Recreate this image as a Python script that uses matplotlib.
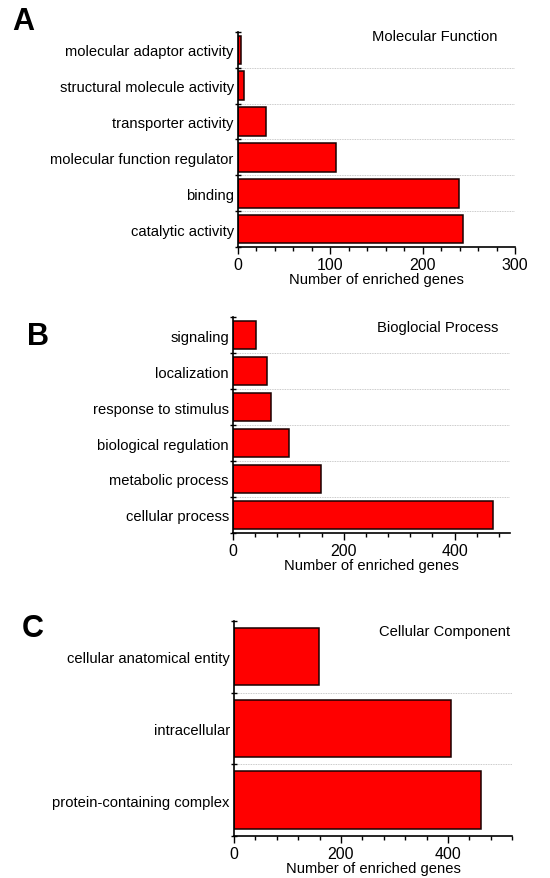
import matplotlib
matplotlib.use("Agg")
import matplotlib.pyplot as plt
import numpy as np
from matplotlib.ticker import MultipleLocator, FixedLocator

plt.rcParams['font.family'] = ['Liberation Sans', 'DejaVu Sans']

# top-to-bottom order as in the figure
mf_terms = ["molecular adaptor activity", "structural molecule activity", "transporter activity",
            "molecular function regulator", "binding", "catalytic activity"]
mf_counts = [3, 7, 30, 106, 239, 244]

bp_terms = ["signaling", "localization", "response to stimulus",
            "biological regulation", "metabolic process", "cellular process"]
bp_counts = [42, 62, 68, 101, 158, 469]

cc_terms = ["cellular anatomical entity", "intracellular", "protein-containing complex"]
cc_counts = [159, 405, 461]

panels = [
    dict(letter="A", title="Molecular Function", terms=mf_terms, counts=mf_counts,
         xmax=300, major=100, minor=20, rect=[0.4327, 0.7179, 0.5037, 0.2446],
         title_xy=(0.935, 0.981), letter_xy=(0.042, 0.975)),
    dict(letter="B", title="Bioglocial Process", terms=bp_terms, counts=bp_counts,
         xmax=500, major=200, minor=40, rect=[0.4236, 0.3925, 0.5037, 0.2457],
         title_xy=(0.957, 0.954), letter_xy=(0.069, 0.6166)),
    dict(letter="C", title="Cellular Component", terms=cc_terms, counts=cc_counts,
         xmax=520, major=200, minor=40, rect=[0.4255, 0.0478, 0.5055, 0.2446],
         title_xy=(0.993, 0.953), letter_xy=(0.06, 0.284)),
]

fig = plt.figure(figsize=(5.5, 8.79), dpi=100)

for p in panels:
    ax = fig.add_axes(p["rect"])
    n = len(p["terms"])
    y = np.arange(n)
    ax.barh(y, p["counts"], height=0.8, color="#ff0000", edgecolor="#1a0000", linewidth=1.1)
    ax.set_ylim(n - 0.5, -0.5)
    ax.set_xlim(0, p["xmax"])
    ax.set_yticks(y)
    ax.set_yticklabels(p["terms"], fontsize=10.6)
    ax.tick_params(axis="y", which="major", length=0, pad=3)
    ax.yaxis.set_minor_locator(FixedLocator(np.arange(n + 1) - 0.5))
    ax.tick_params(axis="y", which="minor", direction="inout", length=4, width=1)
    ax.xaxis.set_major_locator(MultipleLocator(p["major"]))
    ax.xaxis.set_minor_locator(MultipleLocator(p["minor"]))
    ax.tick_params(axis="x", which="major", direction="out", length=5, width=1, labelsize=11.5, pad=2)
    ax.tick_params(axis="x", which="minor", direction="out", length=3, width=1)
    for b in np.arange(1, n) - 0.5:
        ax.axhline(b, color="#b8b8b8", linestyle=(0, (1, 1)), linewidth=0.6, zorder=0)
    for s in ["top", "right"]:
        ax.spines[s].set_visible(False)
    for s in ["left", "bottom"]:
        ax.spines[s].set_linewidth(1.2)
    ax.set_xlabel("Number of enriched genes", fontsize=10.6, labelpad=0)
    ax.text(p["title_xy"][0], p["title_xy"][1], p["title"], transform=ax.transAxes,
            ha="right", va="center", fontsize=10.6)
    fig.text(p["letter_xy"][0], p["letter_xy"][1], p["letter"], ha="center", va="center",
             fontsize=22, fontweight="bold")

fig.savefig("out.png", dpi=100)
